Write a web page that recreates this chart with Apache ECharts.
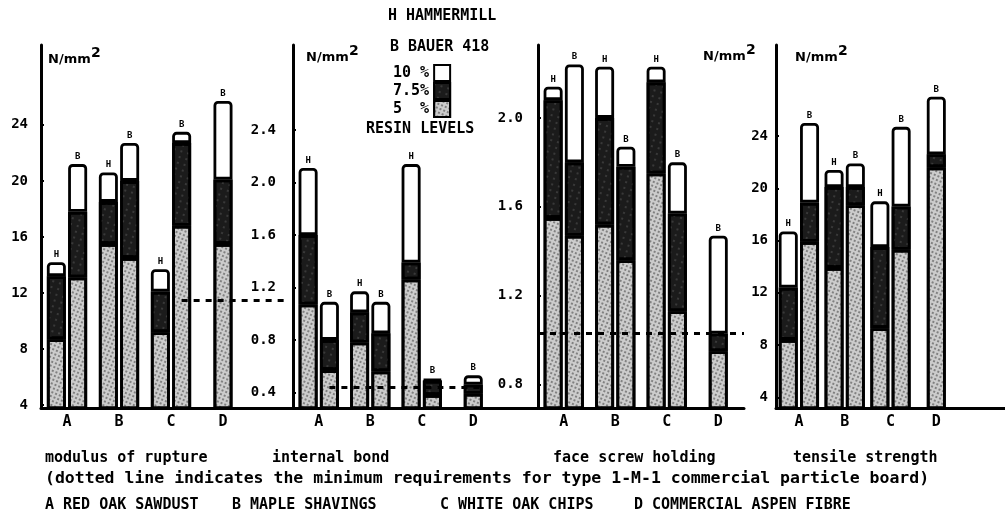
<!DOCTYPE html>
<html>
<head>
<meta charset="utf-8">
<script src="https://cdn.jsdelivr.net/npm/echarts@6/dist/echarts.min.js"></script>
<style>
html, body { margin: 0; padding: 0; background: #fff; }
#chart { width: 1005px; height: 516px; }
</style>
</head>
<body>
<div id="chart"></div>
<script>
// A red oak sawdust, B maple shavings, C white oak chips, D commercial aspen fibre
var categories = ["A", "B", "C", "D"];
// resin levels, bottom to top of each bar
var levels = ["5  %", "7.5%", "10 %"];
var legendOrder = ["10 %", "7.5%", "5  %"];

// modulus of rupture (N/mm2), H = hammermill, B = Bauer 418
var morH5 = [8.7, 15.5, 9.2, null];
var morH75 = [13.2, 18.5, 12.1, null];
var morH10 = [14.2, 20.6, 13.7, null];
var morB5 = [13.1, 14.5, 16.8, 15.5];
var morB75 = [17.8, 20.0, 22.7, 20.1];
var morB10 = [21.2, 22.7, 23.5, 25.7];
var morMin = 11.5;
var morTicks = [4, 8, 12, 16, 20, 24];

// internal bond (N/mm2)
var ibH5 = [1.07, 0.78, 1.26, null];
var ibH75 = [1.60, 1.01, 1.39, null];
var ibH10 = [2.11, 1.17, 2.14, null];
var ibB5 = [0.57, 0.56, 0.38, 0.39];
var ibB75 = [0.80, 0.85, 0.49, 0.46];
var ibB10 = [1.09, 1.09, 0.50, 0.53];
var ibMin = 0.44;
var ibTicks = [0.4, 0.8, 1.2, 1.6, 2.0, 2.4];

// face screw holding
var fsH5 = [1.55, 1.52, 1.75, null];
var fsH75 = [2.08, 2.00, 2.16, null];
var fsH10 = [2.14, 2.23, 2.23, null];
var fsB5 = [1.47, 1.36, 1.13, 0.95];
var fsB75 = [1.80, 1.78, 1.57, 1.03];
var fsB10 = [2.24, 1.87, 1.80, 1.47];
var fsMin = 1.03;
var fsTicks = [0.8, 1.2, 1.6, 2.0];

// tensile strength (N/mm2)
var tsH5 = [8.4, 13.9, 9.3, null];
var tsH75 = [12.4, 20.1, 15.5, null];
var tsH10 = [16.7, 21.4, 19.0, null];
var tsB5 = [15.9, 18.7, 15.3, 21.6];
var tsB75 = [18.9, 20.1, 18.6, 22.6];
var tsB10 = [25.0, 21.9, 24.7, 27.0];
var tsTicks = [4, 8, 12, 16, 20, 24];

var MONO = '"DejaVu Sans Mono", monospace';

var panels = [
  { H: [morH5, morH75, morH10], B: [morB5, morB75, morB10], ticks: morTicks, dec: 0,
    left: 41, slot: 52, pad: true, min: 3.79, max: 29.7, labelMargin: 13,
    dash: [[{ coord: [2, morMin] }, { coord: [4, morMin] }]] },
  { H: [ibH5, ibH75, ibH10], B: [ibB5, ibB75, ibB10], ticks: ibTicks, dec: 1,
    left: 293, slot: 51.5, pad: true, min: 0.281, max: 3.048, labelMargin: 17,
    dash: [[{ coord: [0, ibMin] }, { coord: [3, ibMin] }]] },
  { H: [fsH5, fsH75, fsH10], B: [fsB5, fsB75, fsB10], ticks: fsTicks, dec: 1,
    left: 538, slot: 51.5, pad: false, min: 0.695, max: 2.328, labelMargin: 15,
    dash: [{ yAxis: fsMin }] },
  { H: [tsH5, tsH75, tsH10], B: [tsB5, tsB75, tsB10], ticks: tsTicks, dec: 0,
    left: 776, slot: 51.5, pad: true, min: 3.19, max: 30.96, labelMargin: 8,
    dash: null }
];

var fills = [
  { color: "#cccccc", decal: { symbol: "circle", symbolSize: 0.9, color: "rgba(0,0,0,0.55)",
    dashArrayX: [2, 2], dashArrayY: [2, 2], rotation: 0.4 } },
  { color: "#1b1b1b", decal: { symbol: "circle", symbolSize: 0.8, color: "rgba(255,255,255,0.3)",
    dashArrayX: [2, 5], dashArrayY: [2, 4], rotation: 0.3 } },
  { color: "#ffffff" }
];

function steps(vals) {
  // stacked pieces: 5 %, then the extra gained at 7.5 % and at 10 %
  return vals.map(function (arr, k) {
    return arr.map(function (v, i) {
      if (v == null) return null;
      return k === 0 ? v : +(v - vals[k - 1][i]).toFixed(3);
    });
  });
}

var grids = [], xAxes = [], yAxes = [], series = [];

panels.forEach(function (p, gi) {
  var cats = p.pad ? categories.concat([" "]) : categories;
  grids.push({ left: p.left, top: 45, height: 363, width: p.slot * cats.length });
  xAxes.push({
    type: "category", gridIndex: gi, data: cats,
    axisLine: { onZero: false, lineStyle: { color: "#000", width: 3 } },
    axisTick: { show: false },
    axisLabel: { color: "#000", fontFamily: MONO, fontWeight: "bold", fontSize: 15, margin: 7 }
  });
  xAxes.push({ type: "category", gridIndex: gi, data: cats, show: false });
  yAxes.push({
    type: "value", gridIndex: gi, min: p.min, max: p.max,
    splitLine: { show: false },
    axisLine: { show: true, lineStyle: { color: "#000", width: 3 } },
    axisTick: { show: true, inside: true, length: 3, lineStyle: { width: 2, color: "#000" }, customValues: p.ticks },
    axisLabel: {
      customValues: p.ticks, margin: p.labelMargin, color: "#000",
      fontFamily: MONO, fontWeight: "bold", fontSize: 14,
      formatter: (function (d) { return function (v) { return v.toFixed(d); }; })(p.dec)
    }
  });

  var groups = [
    { vals: steps(p.H), mill: "H", ax: gi * 2, keep: function (i) { return i !== 3; } },
    { vals: steps(p.B), mill: "B", ax: gi * 2, keep: function (i) { return i !== 3; } },
    { vals: steps(p.B), mill: "B", ax: gi * 2 + 1, keep: function (i) { return i === 3; } }
  ];
  groups.forEach(function (g, gk) {
    for (var k = 0; k < 3; k++) {
      var data = g.vals[k].map(function (v, i) { return g.keep(i) ? v : null; });
      var s = {
        type: "bar", name: levels[k], stack: "s" + gi + "_" + gk,
        xAxisIndex: g.ax, yAxisIndex: gi,
        barWidth: 19, barGap: "12%",
        data: data,
        itemStyle: {
          color: fills[k].color, decal: fills[k].decal,
          borderColor: "#000", borderWidth: 2.8,
          borderRadius: k === 2 ? [3, 3, 0, 0] : 0
        },
        label: k === 2 ? {
          show: true, position: "top", distance: 3, formatter: g.mill,
          color: "#000", fontFamily: MONO, fontWeight: "bold", fontSize: 9
        } : { show: false }
      };
      if (gk === 1 && k === 0 && p.dash) {
        s.markLine = {
          silent: true, symbol: "none", label: { show: false },
          lineStyle: { color: "#000", width: 3, type: [6, 6] },
          data: p.dash
        };
      }
      series.push(s);
    }
  });
});

function txt(x, y, text, font, extra) {
  var st = { text: text, fill: "#000", font: font, verticalAlign: "middle" };
  for (var key in extra || {}) st[key] = extra[key];
  return { type: "text", x: x, y: y, style: st, silent: true };
}

var unitSpots = [[48, 60], [306, 58], [703, 57], [795, 58]];
var graphics = [];
unitSpots.forEach(function (u) {
  graphics.push(txt(u[0], u[1], "N/mm", 'bold 13px "DejaVu Sans"'));
  graphics.push(txt(u[0] + 43, u[1] - 7, "2", 'bold 14px "DejaVu Sans"'));
});
graphics.push(txt(388, 16, "H HAMMERMILL", "bold 15px " + MONO));
graphics.push(txt(390, 47, "B BAUER 418", "bold 15px " + MONO));
graphics.push(txt(366, 129, "RESIN LEVELS", "bold 15px " + MONO));
graphics.push(txt(45, 458, "modulus of rupture", "bold 15px " + MONO));
graphics.push(txt(272, 458, "internal bond", "bold 15px " + MONO));
graphics.push(txt(553, 458, "face screw holding", "bold 15px " + MONO));
graphics.push(txt(793, 458, "tensile strength", "bold 15px " + MONO));
graphics.push(txt(45, 479, "(dotted line indicates the minimum requirements for type 1-M-1 commercial particle board)", "bold 16.5px " + MONO));
graphics.push(txt(45, 505, "A RED OAK SAWDUST", "bold 15px " + MONO));
graphics.push(txt(232, 505, "B MAPLE SHAVINGS", "bold 15px " + MONO));
graphics.push(txt(440, 505, "C WHITE OAK CHIPS", "bold 15px " + MONO));
graphics.push(txt(634, 505, "D COMMERCIAL ASPEN FIBRE", "bold 15px " + MONO));

var chart = echarts.init(document.getElementById("chart"));
chart.setOption({
  animation: false,
  backgroundColor: "#fff",
  legend: {
    data: legendOrder, orient: "vertical", left: 393, top: 64, padding: 0,
    align: "right", icon: "rect", itemWidth: 16, itemHeight: 16, itemGap: 0,
    selectedMode: false,
    itemStyle: { borderColor: "#000", borderWidth: 2 },
    textStyle: { color: "#000", fontFamily: MONO, fontWeight: "bold", fontSize: 15 }
  },
  grid: grids,
  xAxis: xAxes,
  yAxis: yAxes,
  series: series,
  graphic: graphics
});
</script>
</body>
</html>
